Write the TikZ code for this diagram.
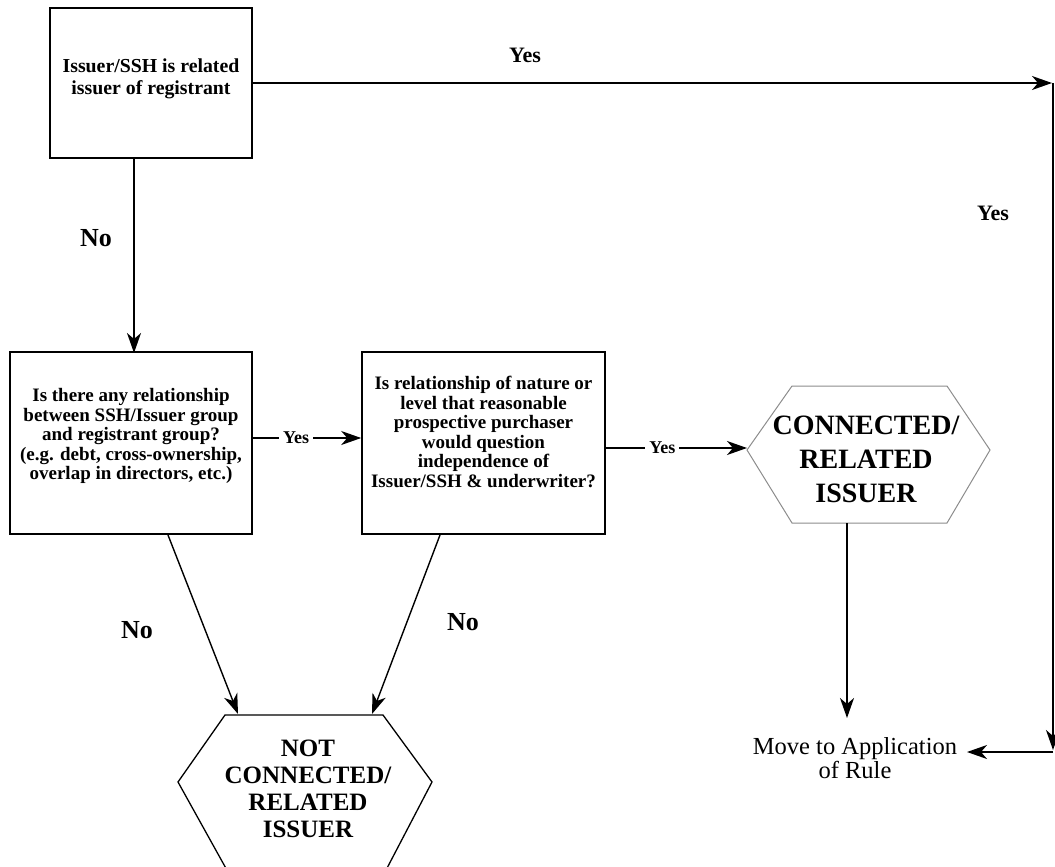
\documentclass[tikz,border=0pt]{standalone}
\usepackage{fontspec}
\setmainfont{Liberation Serif}
\usetikzlibrary{arrows.meta}
\begin{document}
\begin{tikzpicture}[x=1pt,y=-1pt,
  arr/.style={line width=1.4pt,-{Stealth[length=20pt,width=14pt,inset=6pt]}},
  boxs/.style={draw,line width=1.6pt,inner sep=0pt},
  boxtext/.style={align=center,font=\bfseries\fontsize{19}{19.5}\selectfont,inner sep=0pt},
  lbl/.style={font=\bfseries\fontsize{22}{24}\selectfont,inner sep=0pt},
  midlbl/.style={fill=white,font=\bfseries\fontsize{18}{18}\selectfont,inner sep=0pt,inner xsep=4pt},
  bigtext/.style={align=center,font=\bfseries\fontsize{28}{34}\selectfont,inner sep=0pt}
]
\useasboundingbox (0,0) rectangle (1055,867);
\clip (0,0) rectangle (1055,867);

% boxes
\node[boxs,minimum width=202pt,minimum height=150pt] (b1) at (151,83) {};
\node[boxtext,font=\bfseries\fontsize{19.8}{22}\selectfont] (t1) at (151,79) {Issuer/SSH is related\\issuer of registrant};

\node[boxs,minimum width=242pt,minimum height=182pt] (b2) at (131,443) {};
\node[boxtext] (t2) at (131,436) {Is there any relationship\\between SSH/Issuer group\\and registrant group?\\(e.g. debt, cross-ownership,\\overlap in directors, etc.)};

\node[boxs,minimum width=243pt,minimum height=182pt] (b3) at (483.5,443) {};
\node[boxtext] (t3) at (483.5,432) {Is relationship of nature or\\level that reasonable\\prospective purchaser\\would question\\independence of\\Issuer/SSH \& underwriter?};

% hexagons
\draw[draw=black!45,line width=1pt] (747,450) -- (792,386) -- (947,386) -- (990,450) -- (947,523) -- (792,523) -- cycle;
\node[bigtext] (hex1) at (866,459) {CONNECTED/\\RELATED\\ISSUER};
\coordinate (hex1L) at (747,448);
\coordinate (hex1B) at (847,523);

\draw[line width=1.3pt] (225,715) -- (383,715) -- (432,782) -- (385,872) -- (228,872) -- (178,782) -- cycle;
\node[align=center,font=\bfseries\fontsize{25}{27}\selectfont,inner sep=0pt] (hex2) at (308,789) {NOT\\CONNECTED/\\RELATED\\ISSUER};
\coordinate (hex2a) at (238,714);
\coordinate (hex2b) at (372,714);

% move node
\node[align=center,font=\fontsize{24.5}{22}\selectfont,inner sep=0pt] (move) at (855,758) {Move to Application\\of Rule};
\coordinate (moveT) at (847,718);
\coordinate (moveR) at (967,752);

% connector points
\coordinate (c1) at (134,158);
\coordinate (c2) at (134,353);
\coordinate (tr) at (1052,83);
\coordinate (trv) at (1053,83);
\coordinate (br) at (1053,750);
\coordinate (brs) at (1053,752);
\coordinate (b2s) at (168,535);
\coordinate (b3s) at (440,535);

% connectors
\draw[arr] (c1) -- (c2);
\draw[arr] (b1.east |- tr) -- (tr);
\draw[arr] (trv) -- (br);
\draw[arr] (brs) -- (moveR);
\draw[arr] (b2.east |- 0,438) -- node[pos=0.4,midlbl]{Yes} (b3.west |- 0,438);
\draw[arr] (b3.east |- hex1L) -- node[pos=0.4,midlbl]{Yes} (hex1L);
\draw[arr] (hex1B) -- (moveT);
\draw[arr] (b2s) -- (hex2a);
\draw[arr] (b3s) -- (hex2b);

% labels
\node[lbl] (yes1) at (525,55) {Yes};
\node[lbl] (yes2) at (993,213) {Yes};
\node[lbl,font=\bfseries\fontsize{26}{26}\selectfont] (no1) at (96,238) {No};
\node[lbl,font=\bfseries\fontsize{26}{26}\selectfont] (no2) at (137,630) {No};
\node[lbl,font=\bfseries\fontsize{26}{26}\selectfont] (no3) at (463,622) {No};
\end{tikzpicture}
\end{document}
